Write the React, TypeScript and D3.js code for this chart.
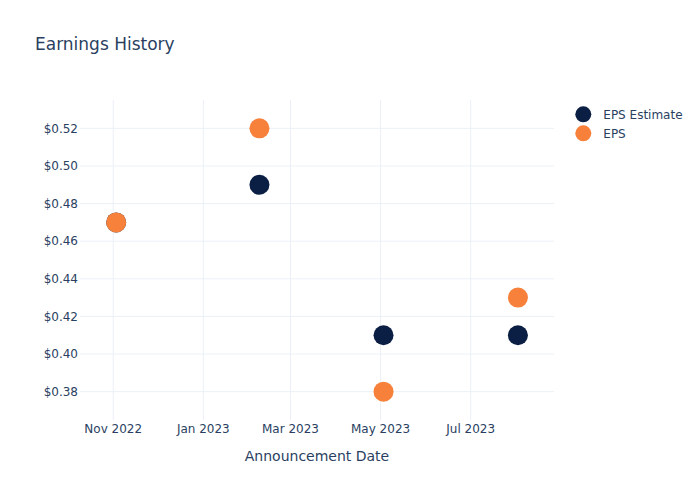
import React from "react";
import * as d3 from "d3";

const dates: string[] = ["2022-11-03", "2023-02-08", "2023-05-03", "2023-08-02"];
const epsEstimate: number[] = [0.47, 0.49, 0.41, 0.41];
const eps: number[] = [0.47, 0.52, 0.38, 0.43];
const yTicks: number[] = [0.38, 0.4, 0.42, 0.44, 0.46, 0.48, 0.5, 0.52];
const xTicks: string[] = ["2022-11-01", "2023-01-01", "2023-03-01", "2023-05-01", "2023-07-01"];
const seriesNames: string[] = ["EPS Estimate", "EPS"];
const seriesColors: string[] = ["#0b1f44", "#f7813a"];

const W = 700, H = 500;
const m = { l: 80, r: 146, t: 100, b: 80 };
const parse = d3.utcParse("%Y-%m-%d");
const textColor = "#2a3f5f";
const grid = "#ebf0f8";
const font = "'DejaVu Sans', Verdana, sans-serif";

export default function App() {
  const x = d3
    .scaleUtc()
    .domain([new Date(Date.UTC(2022, 9, 9, 12)), new Date(Date.UTC(2023, 7, 26, 10))])
    .range([m.l, W - m.r]);
  const y = d3.scaleLinear().domain([0.36495, 0.53505]).range([H - m.b, m.t]);
  const fmtX = d3.utcFormat("%b %Y");
  const fmtY = (v: number) => "$" + v.toFixed(2);
  const series = [epsEstimate, eps];

  return (
    <svg
      width={W}
      height={H}
      style={{ position: "absolute", left: 0, top: 0, background: "#fff" }}
      fontFamily={font}
    >
      <rect x={0} y={0} width={W} height={H} fill="#fff" />
      {yTicks.map((t) => (
        <line key={"gy" + t} x1={m.l} x2={W - m.r} y1={y(t)} y2={y(t)} stroke={grid} strokeWidth={1} />
      ))}
      {xTicks.map((t) => (
        <line
          key={"gx" + t}
          x1={x(parse(t)!)}
          x2={x(parse(t)!)}
          y1={m.t}
          y2={H - m.b}
          stroke={grid}
          strokeWidth={1}
        />
      ))}
      {yTicks.map((t) => (
        <text key={"ty" + t} x={m.l - 2} y={y(t)} dy="0.35em" textAnchor="end" fontSize={12} fill={textColor}>
          {fmtY(t)}
        </text>
      ))}
      {xTicks.map((t) => (
        <text key={"tx" + t} x={x(parse(t)!)} y={433} textAnchor="middle" fontSize={12} fill={textColor}>
          {fmtX(parse(t)!)}
        </text>
      ))}
      <text x={(m.l + W - m.r) / 2} y={461} textAnchor="middle" fontSize={14} fill={textColor}>
        Announcement Date
      </text>
      <text x={35} y={50} fontSize={17} fill={textColor}>
        Earnings History
      </text>
      {series.map((vals, si) =>
        vals.map((v, i) => (
          <circle key={si + "-" + i} cx={x(parse(dates[i])!)} cy={y(v)} r={10} fill={seriesColors[si]} />
        ))
      )}
      {seriesNames.map((n, i) => (
        <g key={n} transform={`translate(583.3, ${114.3 + i * 19})`}>
          <circle cx={0} cy={0} r={8} fill={seriesColors[i]} />
          <text x={20} y={0} dy="0.35em" fontSize={12} fill={textColor}>
            {n}
          </text>
        </g>
      ))}
    </svg>
  );
}
